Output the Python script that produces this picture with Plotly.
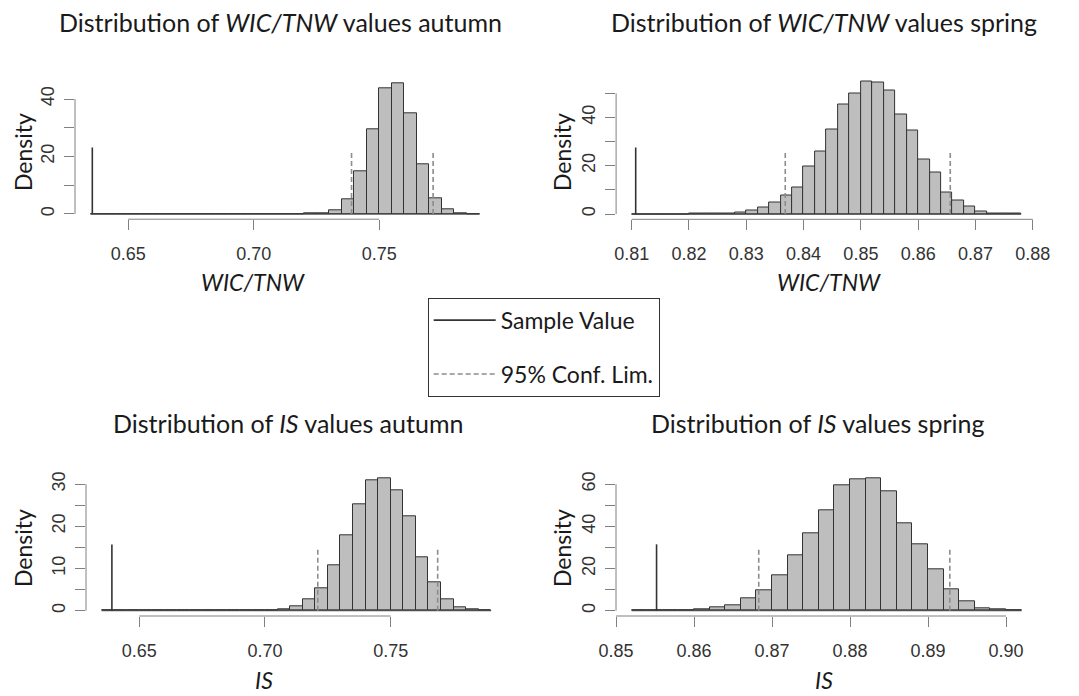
import plotly.graph_objects as go

# The page body keeps an 8px margin, so the figure is drawn 8px smaller and all
# pixel positions below (measured on the 1079x696 page) are shifted by that margin.
PAGE_W, PAGE_H = 1079, 696
OFF = 8
W, H = PAGE_W - OFF, PAGE_H - OFF


def px(xp):
    return (xp - OFF) / W


def py(yp):
    return 1 - (yp - OFF) / H


# ---------------- data ----------------
# Panel 1: WIC/TNW autumn
p1_break_start = 0.635
p1_bin_width = 0.005
p1_density = [0, 0, 0, 0, 0, 0, 0, 0, 0, 0, 0, 0, 0, 0, 0, 0, 0,
              0.08, 0.4, 1.2, 5.2, 14.7, 29.4, 43.7, 45.4, 35.2, 17.4, 5.3, 1.7, 0.35, 0.05]
p1_sample = 0.6357
p1_sample_h = 23.1
p1_ci = [0.7390, 0.7715]
p1_ci_h = 21.7
p1_xticks = [0.65, 0.70, 0.75]
p1_yticks = [0, 10, 20, 30, 40]
p1_ylabels = ["0", "", "20", "", "40"]

# Panel 2: WIC/TNW spring
p2_break_start = 0.810
p2_bin_width = 0.002
p2_density = [0, 0, 0, 0, 0, 0.03, 0.05, 0.15, 0.4, 0.8, 1.4, 2.9, 4.6, 7.6, 11.0, 19.6, 26.0,
              35.1, 45.2, 49.9, 54.8, 54.4, 51.1, 41.4, 34.5, 22.7, 17.1, 9.1, 5.7, 3.3, 1.1,
              0.4, 0.15, 0.08]
p2_sample = 0.8107
p2_sample_h = 27.6
p2_ci = [0.8368, 0.8656]
p2_ci_h = 25.8
p2_xticks = [0.81, 0.82, 0.83, 0.84, 0.85, 0.86, 0.87, 0.88]
p2_yticks = [0, 10, 20, 30, 40, 50]
p2_ylabels = ["0", "", "20", "", "40", ""]

# Panel 3: IS autumn
p3_break_start = 0.635
p3_bin_width = 0.005
p3_density = [0, 0, 0, 0, 0, 0, 0, 0, 0, 0, 0, 0,
              0.05, 0.15, 0.4, 1.0, 2.8, 5.4, 10.7, 17.8, 25.3, 30.9, 31.3, 28.6, 22.3, 12.7,
              6.7, 2.8, 0.7, 0.25, 0.05]
p3_sample = 0.6391
p3_sample_h = 15.7
p3_ci = [0.7210, 0.7687]
p3_ci_h = 14.8
p3_xticks = [0.65, 0.70, 0.75]
p3_yticks = [0, 5, 10, 15, 20, 25, 30]
p3_ylabels = ["0", "", "10", "", "20", "", "30"]

# Panel 4: IS spring
p4_break_start = 0.852
p4_bin_width = 0.002
p4_density = [0.3, 0.15, 0.15, 0.2, 0.6, 1.4, 2.7, 5.7, 9.8, 16.9, 26.4, 36.7, 47.8, 59.3,
              62.2, 62.7, 56.5, 41.5, 31.5, 19.5, 10.1, 4.7, 1.3, 0.5, 0.1]
p4_sample = 0.8552
p4_sample_h = 31.5
p4_ci = [0.8683, 0.8928]
p4_ci_h = 29.3
p4_xticks = [0.85, 0.86, 0.87, 0.88, 0.89, 0.90]
p4_yticks = [0, 10, 20, 30, 40, 50, 60]
p4_ylabels = ["0", "", "20", "", "40", "", "60"]

titles = ["Distribution of <i>WIC/TNW</i> values autumn",
          "Distribution of <i>WIC/TNW</i> values spring",
          "Distribution of <i>IS</i> values autumn",
          "Distribution of <i>IS</i> values spring"]
xlabels = ["<i>WIC/TNW</i>", "<i>WIC/TNW</i>", "<i>IS</i>", "<i>IS</i>"]
ylabel = "Density"
legend_names = ["Sample Value", "95% Conf. Lim."]

# ---------------- layout (page-pixel boxes of the four plot regions) ----------------
boxes = [(75.0, 495.1, 78.3, 219.2),
         (616.1, 1036.9, 76.5, 219.3),
         (86.0, 506.8, 473.3, 616.0),
         (616.0, 1037.2, 473.3, 616.0)]
title_pos = [(280, 22), (824, 22), (287.5, 423), (817.5, 423)]
# (x centre, y, vertical anchor)
xlab_pos = [(253, 282, "middle"), (829, 282, "middle"), (264, 695, "bottom"), (824, 695, "bottom")]
ylab_pos = [(23, 152), (562, 152), (23, 548), (562, 548)]

BAR_FILL = "#bebebe"
BAR_LINE = "#333333"
AXIS_COL = "#808080"
SAMPLE_COL = "#333333"
CI_COL = "#8c8c8c"
TITLE_FONT = "Lato, 'Open Sans', sans-serif"
TICK_FONT = "Liberation Sans, Arial, sans-serif"

panels = [
    (p1_break_start, p1_bin_width, p1_density, p1_sample, p1_sample_h, p1_ci, p1_ci_h, p1_xticks, p1_yticks, p1_ylabels),
    (p2_break_start, p2_bin_width, p2_density, p2_sample, p2_sample_h, p2_ci, p2_ci_h, p2_xticks, p2_yticks, p2_ylabels),
    (p3_break_start, p3_bin_width, p3_density, p3_sample, p3_sample_h, p3_ci, p3_ci_h, p3_xticks, p3_yticks, p3_ylabels),
    (p4_break_start, p4_bin_width, p4_density, p4_sample, p4_sample_h, p4_ci, p4_ci_h, p4_xticks, p4_yticks, p4_ylabels),
]

fig = go.Figure()
layout = dict(width=W, height=H, margin=dict(l=0, r=0, t=0, b=0, autoexpand=False),
              paper_bgcolor="white", plot_bgcolor="white",
              bargap=0, barmode="overlay", showlegend=True)
shapes = []
annotations = []

for i, (b0, bw, dens, samp, samp_h, ci, ci_h, xt, yt, yl) in enumerate(panels):
    n = i + 1
    xa = "x" if n == 1 else f"x{n}"
    ya = "y" if n == 1 else f"y{n}"
    breaks = [b0 + bw * k for k in range(len(dens) + 1)]
    centers = [b0 + bw * (k + 0.5) for k in range(len(dens))]

    # baseline of the histogram (zero-height bins drawn as a line, like R)
    fig.add_trace(go.Scatter(x=[breaks[0], breaks[-1]], y=[0, 0], mode="lines",
                             line=dict(color=BAR_LINE, width=1), showlegend=False,
                             hoverinfo="skip", xaxis=xa, yaxis=ya))
    fig.add_trace(go.Bar(x=centers, y=dens, width=[bw] * len(dens),
                         marker=dict(color=BAR_FILL, line=dict(color=BAR_LINE, width=1)),
                         showlegend=False, xaxis=xa, yaxis=ya))
    fig.add_trace(go.Scatter(x=[samp, samp], y=[0, samp_h], mode="lines",
                             line=dict(color=SAMPLE_COL, width=1.6),
                             name=legend_names[0], legendgroup="a", showlegend=(n == 1),
                             xaxis=xa, yaxis=ya))
    for j, c in enumerate(ci):
        fig.add_trace(go.Scatter(x=[c, c], y=[0, ci_h], mode="lines",
                                 line=dict(color=CI_COL, width=1.6, dash="5px,3px"),
                                 name=legend_names[1], legendgroup="b",
                                 showlegend=(n == 1 and j == 0), xaxis=xa, yaxis=ya))

    lo = min(breaks[0], samp)
    hi = breaks[-1]
    xr = [lo - 0.04 * (hi - lo), hi + 0.04 * (hi - lo)]
    ymax = max(dens)
    yr = [-0.04 * ymax, 1.04 * ymax]

    x0, x1, yt0, yb0 = boxes[i]
    key_x = "xaxis" if n == 1 else f"xaxis{n}"
    key_y = "yaxis" if n == 1 else f"yaxis{n}"
    layout[key_x] = dict(domain=[px(x0), px(x1)], range=xr, anchor=ya, automargin=False,
                         showgrid=False, zeroline=False, showline=False,
                         tickmode="array", tickvals=xt, ticktext=[f"{v:.2f}" for v in xt],
                         ticks="outside", ticklen=10, tickcolor=AXIS_COL, tickwidth=1,
                         ticklabelstandoff=8,
                         tickfont=dict(family=TICK_FONT, size=18, color="#333333"))
    layout[key_y] = dict(domain=[py(yb0), py(yt0)], range=yr, anchor=xa, automargin=False,
                         showgrid=False, zeroline=False, showline=False,
                         tickmode="array", tickvals=yt, ticktext=yl,
                         ticks="outside", ticklen=10, tickcolor=AXIS_COL, tickwidth=1,
                         tickangle=-90, ticklabelstandoff=3,
                         tickfont=dict(family=TICK_FONT, size=18, color="#333333"))
    # R-style axis lines spanning only the tick range
    shapes.append(dict(type="line", xref=xa, yref=f"{ya} domain", x0=xt[0], x1=xt[-1],
                       y0=0, y1=0, line=dict(color=AXIS_COL, width=1)))
    shapes.append(dict(type="line", xref=f"{xa} domain", yref=ya, x0=0, x1=0,
                       y0=yt[0], y1=yt[-1], line=dict(color=AXIS_COL, width=1)))

    tx, ty = title_pos[i]
    annotations.append(dict(text=titles[i], x=px(tx), y=py(ty), xref="paper", yref="paper",
                            showarrow=False, xanchor="center", yanchor="middle",
                            font=dict(family=TITLE_FONT, size=25, color="#1a1a1a")))
    lx, ly, lanchor = xlab_pos[i]
    annotations.append(dict(text=xlabels[i], x=px(lx), y=py(ly), xref="paper", yref="paper",
                            showarrow=False, xanchor="center", yanchor=lanchor, borderpad=0,
                            font=dict(family=TITLE_FONT, size=23, color="#1a1a1a")))
    yx, yy = ylab_pos[i]
    annotations.append(dict(text=ylabel, x=px(yx), y=py(yy), xref="paper", yref="paper",
                            showarrow=False, xanchor="center", yanchor="middle", textangle=-90,
                            font=dict(family=TITLE_FONT, size=23, color="#1a1a1a")))

layout["shapes"] = shapes
layout["annotations"] = annotations
layout["legend"] = dict(x=px(427.7), y=py(297.7), xanchor="left", yanchor="top",
                        bordercolor="#333333", borderwidth=1, bgcolor="white",
                        font=dict(family=TITLE_FONT, size=23, color="#1a1a1a"),
                        tracegroupgap=21, itemwidth=62)
fig.update_layout(**layout)
fig.write_html("out.html")
